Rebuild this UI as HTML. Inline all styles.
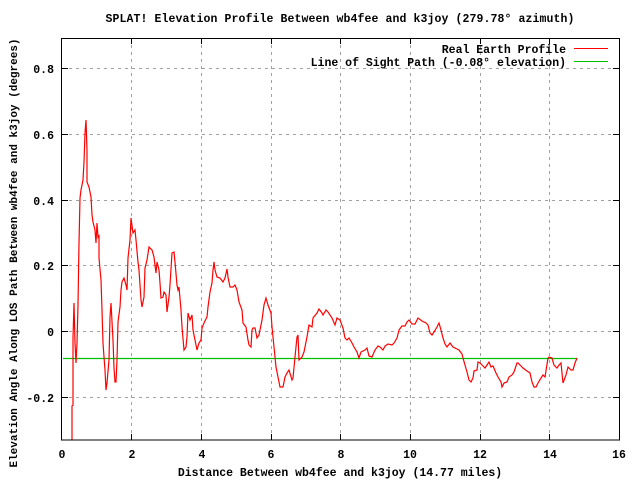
<!DOCTYPE html>
<html><head><meta charset="utf-8"><style>
html,body{margin:0;padding:0;background:#fff;}
svg{display:block;font-family:"Liberation Mono",monospace;font-weight:bold;font-size:11.5px;}
</style></head><body>
<svg width="640" height="480" viewBox="0 0 640 480" xmlns="http://www.w3.org/2000/svg">
<rect width="640" height="480" fill="#fff"/>
<g stroke="#a0a0a0" stroke-width="1" stroke-dasharray="3,4">
<line x1="62" y1="68.5" x2="619" y2="68.5"/>
<line x1="62" y1="134.5" x2="619" y2="134.5"/>
<line x1="62" y1="200.5" x2="619" y2="200.5"/>
<line x1="62" y1="265.5" x2="619" y2="265.5"/>
<line x1="62" y1="331.5" x2="619" y2="331.5"/>
<line x1="62" y1="397.5" x2="619" y2="397.5"/>
<line x1="131.5" y1="38" x2="131.5" y2="440"/>
<line x1="201.5" y1="38" x2="201.5" y2="440"/>
<line x1="271.5" y1="38" x2="271.5" y2="440"/>
<line x1="340.5" y1="38" x2="340.5" y2="440"/>
<line x1="410.5" y1="38" x2="410.5" y2="440"/>
<line x1="480.5" y1="38" x2="480.5" y2="440"/>
<line x1="549.5" y1="38" x2="549.5" y2="440"/>
</g>
<g stroke="#000" stroke-width="1">
<path d="M131.5 440v-6M201.5 440v-6M271.5 440v-6M340.5 440v-6M410.5 440v-6M480.5 440v-6M549.5 440v-6M131.5 38v6M201.5 38v6M271.5 38v6M340.5 38v6M410.5 38v6M480.5 38v6M549.5 38v6"/>
<path d="M62 68.5h6M62 134.5h6M62 200.5h6M62 265.5h6M62 331.5h6M62 397.5h6M619 68.5h-6M619 134.5h-6M619 200.5h-6M619 265.5h-6M619 331.5h-6M619 397.5h-6"/>
</g>
<line x1="63" y1="358.5" x2="577" y2="358.5" stroke="#00c000" stroke-width="1.2"/>
<polyline fill="none" stroke="#ff0000" stroke-width="1.2" points="72,440 72,406 73,405 73,338 74,303 75,343 76,363 77,343 78,305 79,243 80,198 81,190 82,185 83,180 84,162 85,133 86,120 87,150 87,182 89,187 91,197 92,215 93,222 95,230 96,243 97,223 98,237 99,235 99,258 101,280 102,310 103,343 104,357 105,370 106,390 107,383 109,360 110,317 111,303 113,340 114,368 115,382 116,382 117,360 118,322 120,307 121,290 122,282 124,278 126,285 127,290 128,258 130,240 131,218 133,233 135,230 136,240 138,262 139,270 141,300 142,307 144,297 145,268 147,260 149,247 152,250 154,257 156,273 157,262 159,270 160,283 161,298 163,297 164,292 166,295 167,312 169,297 170,285 172,253 174,252 175,262 177,285 178,290 179,287 181,310 182,327 184,350 186,347 187,337 188,313 190,320 192,315 193,330 195,340 197,350 199,343 201,340 202,328 204,323 207,317 208,307 210,292 212,283 213,270 214,262 215,270 217,277 220,278 223,282 225,278 227,269 228,277 230,287 233,287 235,285 237,290 239,302 242,310 243,323 246,327 248,340 249,345 251,347 252,330 253,328 255,328 257,338 259,335 262,320 264,305 266,298 268,305 271,313 272,327 274,347 276,367 278,377 280,387 283,387 285,377 287,373 289,370 292,380 293,378 295,357 297,337 298,335 299,360 302,357 304,352 307,337 309,325 312,327 313,318 317,313 319,309 322,313 323,315 326,310 328,312 332,318 335,325 337,318 340,320 343,328 345,338 347,340 349,338 352,343 354,347 357,352 359,358 361,352 365,350 367,348 369,356 372,357 375,350 378,346 380,347 383,350 385,346 388,344 392,345 394,343 397,338 399,330 402,326 405,326 407,322 409,320 412,324 415,324 418,318 422,321 426,323 428,325 430,333 432,335 434,332 437,327 439,323 441,330 443,338 445,344 447,347 450,343 453,347 457,349 459,350 462,354 463,358 465,365 467,372 469,380 471,382 473,378 474,371 477,370 478,362 480,363 482,365 485,368 487,365 489,362 491,367 493,366 496,373 498,377 501,382 502,387 504,383 507,382 509,377 512,375 514,372 517,363 518,363 521,366 523,368 527,371 530,373 532,382 534,387 536,387 538,383 541,378 543,375 545,377 548,358 549,357 552,358 554,365 557,368 559,365 561,363 563,383 566,375 568,367 571,370 573,370 575,363 577,358"/>
<rect x="61.5" y="38.5" width="558" height="401.5" fill="none" stroke="#000" stroke-width="1"/>
<g fill="#000">
<text x="340" y="22" text-anchor="middle" letter-spacing="0.1">SPLAT! Elevation Profile Between wb4fee and k3joy (279.78° azimuth)</text>
<text x="566" y="53" text-anchor="end">Real Earth Profile</text>
<text x="566" y="66" text-anchor="end">Line of Sight Path (-0.08° elevation)</text>
<text x="340" y="476" text-anchor="middle">Distance Between wb4fee and k3joy (14.77 miles)</text>
<text transform="translate(17,253) rotate(-90)" text-anchor="middle" font-size="11">Elevation Angle Along LOS Path Between wb4fee and k3joy (degrees)</text>
<g text-anchor="end">
<text x="54" y="73">0.8</text>
<text x="54" y="139">0.6</text>
<text x="54" y="205">0.4</text>
<text x="54" y="270">0.2</text>
<text x="54" y="336">0</text>
<text x="54" y="402">-0.2</text>
</g>
<g text-anchor="middle">
<text x="62" y="458">0</text>
<text x="132" y="458">2</text>
<text x="202" y="458">4</text>
<text x="271" y="458">6</text>
<text x="341" y="458">8</text>
<text x="410" y="458">10</text>
<text x="480" y="458">12</text>
<text x="550" y="458">14</text>
<text x="619" y="458">16</text>
</g>
</g>
<line x1="574" y1="48.5" x2="608" y2="48.5" stroke="#ff0000" stroke-width="1"/>
<line x1="574" y1="61.5" x2="608" y2="61.5" stroke="#00c000" stroke-width="1"/>
</svg>
</body></html>
